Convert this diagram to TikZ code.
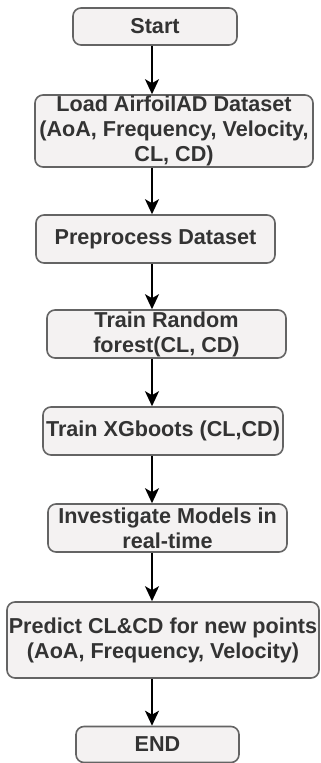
\documentclass[tikz,border=0pt]{standalone}
\usepackage{fontspec}
\setmainfont{Liberation Sans}
\usetikzlibrary{arrows.meta}
\definecolor{boxfill}{RGB}{244,242,242}
\definecolor{boxline}{RGB}{100,100,100}
\definecolor{boxtext}{RGB}{51,51,51}

\begin{document}
\begin{tikzpicture}[x=1pt, y=-1pt,
        step box/.style={draw=boxline, line width=1.6pt, fill=boxfill, rounded corners=8pt,
            text=boxtext, align=center, inner sep=0pt,
            font=\fontsize{21.6}{25}\selectfont\bfseries},
        flow/.style={line width=2pt, -{Stealth[length=15pt, width=14pt, inset=4pt]}}]
            \useasboundingbox (0, 0) rectangle (321, 763);
            \coordinate (spine) at (152, 0);

            \node[step box, minimum width=164pt, minimum height=37pt] (start) at (155, 26.5) {Start};
            \node[step box, minimum width=278pt, minimum height=72pt] (load) at (174, 131)
                {Load AirfoilAD Dataset\\(AoA, Frequency, Velocity,\\CL, CD)};
            \node[step box, minimum width=239pt, minimum height=48pt] (prep) at (155.5, 239) {Preprocess Dataset};
            \node[step box, minimum width=239pt, minimum height=48pt] (forest) at (166.5, 334)
                {Train Random\\forest(CL, CD)};
            \node[step box, minimum width=240pt, minimum height=48pt] (xgb) at (163, 431) {Train XGboots (CL,CD)};
            \node[step box, minimum width=239pt, minimum height=48pt] (invest) at (167.5, 528)
                {Investigate Models in\\real-time};
            \node[step box, minimum width=312pt, minimum height=76pt] (predict) at (163, 640)
                {Predict CL\&CD for new points\\(AoA, Frequency, Velocity)};
            \node[step box, minimum width=163pt, minimum height=36pt] (end) at (157.5, 744.5) {END};

            \draw[flow] (start.south -| spine) -- (load.north -| spine);
            \draw[flow] (load.south -| spine) -- (prep.north -| spine);
            \draw[flow] (prep.south -| spine) -- (forest.north -| spine);
            \draw[flow] (forest.south -| spine) -- (xgb.north -| spine);
            \draw[flow] (xgb.south -| spine) -- (invest.north -| spine);
            \draw[flow] (invest.south -| spine) -- (predict.north -| spine);
            \draw[flow] (predict.south -| spine) -- (end.north -| spine);
\end{tikzpicture}
\end{document}
